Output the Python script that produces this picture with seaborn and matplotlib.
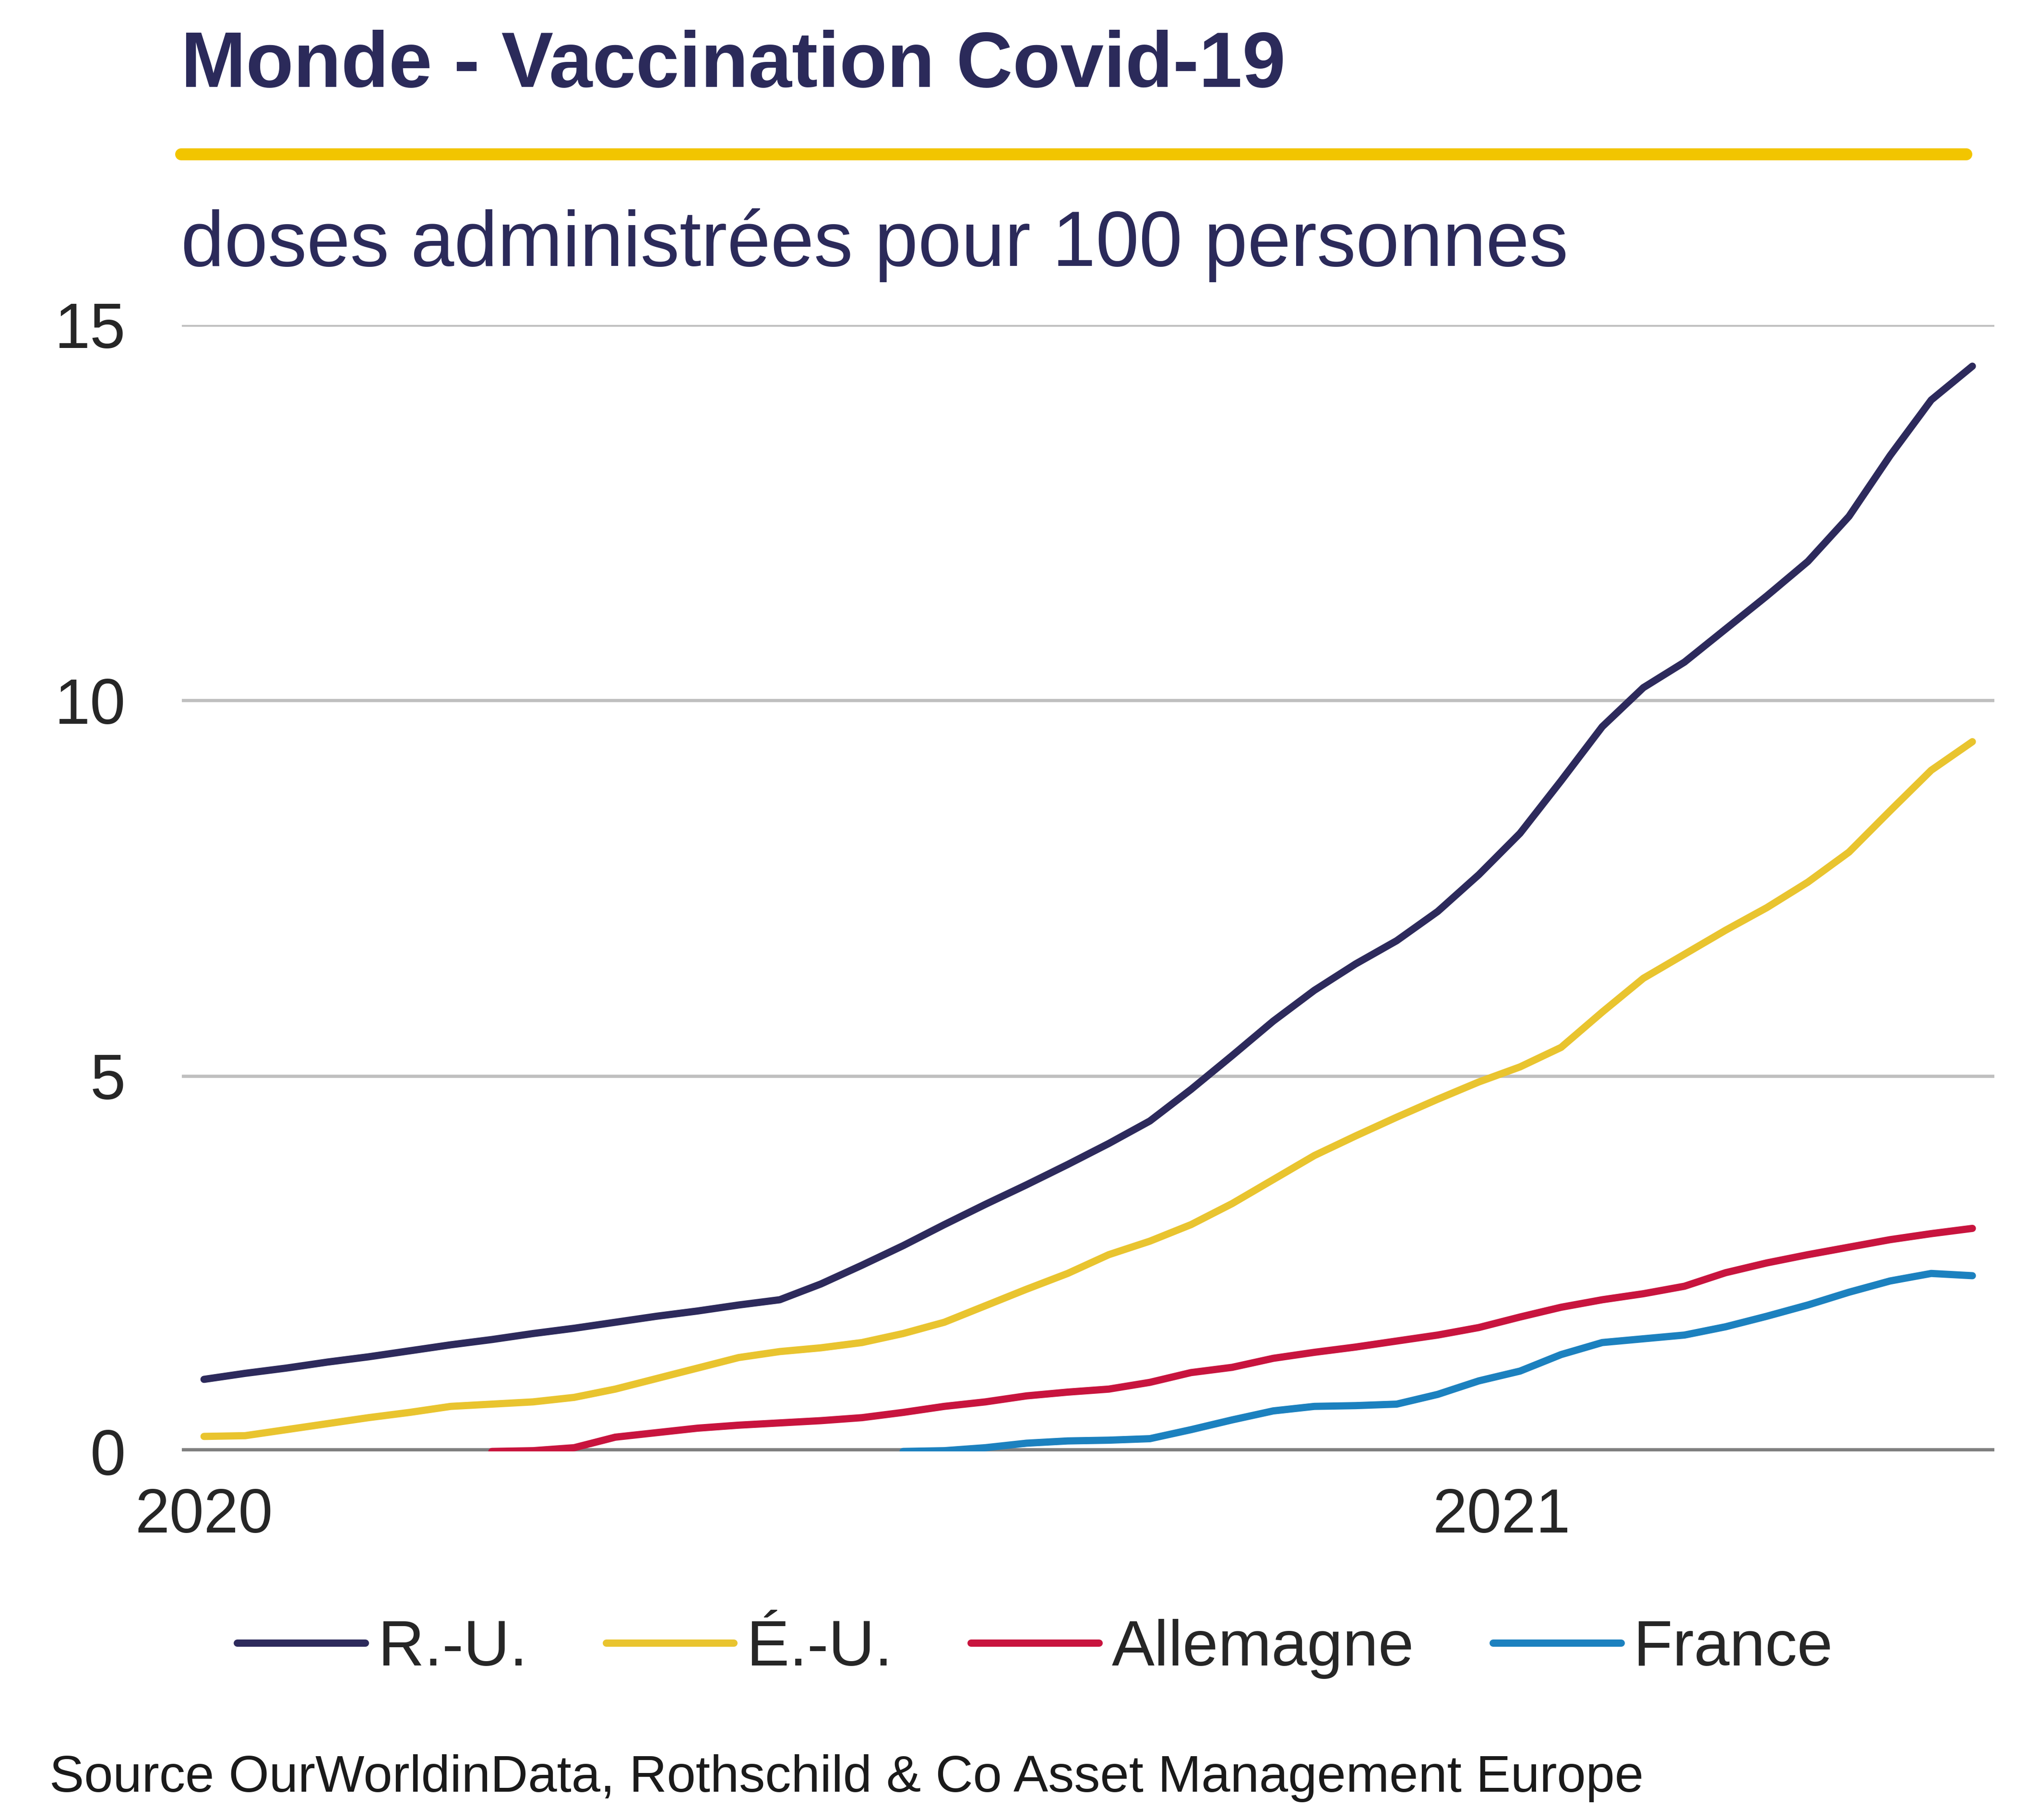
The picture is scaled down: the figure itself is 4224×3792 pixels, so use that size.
import numpy as np
import pandas as pd
import matplotlib.pyplot as plt
from matplotlib.lines import Line2D
import seaborn as sns


# Data (doses per 100 people, one reading per day)
days = list(range(44))

ru = [0.96, 1.04, 1.11, 1.19, 1.26, 1.34, 1.42, 1.49, 1.57, 1.64,
      1.72, 1.80, 1.87, 1.95, 2.02, 2.23, 2.48, 2.74, 3.02, 3.29,
      3.55, 3.82, 4.10, 4.40, 4.82, 5.27, 5.73, 6.14, 6.49, 6.80,
      7.19, 7.68, 8.23, 8.93, 9.65, 10.17, 10.51, 10.95, 11.39, 11.85,
      12.45, 13.26, 14.00, 14.45]

eu = [0.20, 0.21, 0.29, 0.37, 0.45, 0.52, 0.60, 0.63, 0.66, 0.72,
      0.83, 0.97, 1.11, 1.25, 1.33, 1.38, 1.45, 1.57, 1.72, 1.94,
      2.16, 2.37, 2.62, 2.80, 3.02, 3.30, 3.62, 3.94, 4.20, 4.45,
      4.69, 4.92, 5.12, 5.38, 5.85, 6.30, 6.62, 6.94, 7.24, 7.58,
      7.98, 8.53, 9.07, 9.45]

allemagne = [None] * 7 + [
      0.00, 0.01, 0.05, 0.19, 0.25, 0.31, 0.35, 0.38, 0.41, 0.45,
      0.52, 0.60, 0.66, 0.74, 0.79, 0.83, 0.92, 1.05, 1.12, 1.24,
      1.32, 1.39, 1.47, 1.55, 1.65, 1.79, 1.92, 2.02, 2.10, 2.20,
      2.38, 2.51, 2.62, 2.72, 2.82, 2.90, 2.97]

france = [None] * 17 + [
      0.00, 0.01, 0.05, 0.11, 0.14, 0.15, 0.17, 0.29, 0.42, 0.54,
      0.60, 0.61, 0.63, 0.76, 0.94, 1.07, 1.29, 1.45, 1.50, 1.55,
      1.66, 1.80, 1.95, 2.12, 2.27, 2.37, 2.34]

series = {'R.-U.': ru, 'É.-U.': eu, 'Allemagne': allemagne, 'France': france}
colors = ['#2D2A5C', '#E9C42F', '#C8143E', '#1C81BF']

frames = []
for name, vals in series.items():
    frames.append(pd.DataFrame({'day': days, 'value': vals, 'pays': name}))
df = pd.concat(frames).dropna()

year_ticks = [0, 31.55]
year_labels = ['2020', '2021']


sns.set_style('white')
plt.rcParams['font.family'] = ['Liberation Sans', 'DejaVu Sans']

navy = '#2B2A5A'

fig = plt.figure(figsize=(14.08, 12.64), dpi=300)
ax = fig.add_axes([0.0897, 0.2025, 0.8943, 0.619])

sns.lineplot(data=df, x='day', y='value', hue='pays', palette=colors,
             linewidth=3.6, ax=ax)

ax.set_xlim(-0.54, 43.54)
ax.set_ylim(0, 15)
ax.set_yticks([0, 5, 10, 15])
ax.set_xticks(year_ticks)
ax.set_xticklabels(year_labels)
ax.set_xlabel('')
ax.set_ylabel('')
ax.grid(axis='y', color='#BFBFBF', linewidth=1.6)
ax.set_axisbelow(True)
for s in ax.spines.values():
    s.set_visible(False)
ax.axhline(0, color='#7F7F7F', linewidth=3.5, zorder=1)
ax.tick_params(axis='y', length=0, pad=28, labelsize=32, labelcolor='#262626')
ax.tick_params(axis='x', length=0, pad=18, labelsize=31, labelcolor='#262626')

handles, labels = ax.get_legend_handles_labels()
ax.legend_.remove()
fig.legend(handles, labels, loc='center left', bbox_to_anchor=(0.117, 0.094),
           ncol=4, frameon=False, fontsize=32, handlelength=2.0,
           handletextpad=0.2, columnspacing=1.23, borderpad=0,
           borderaxespad=0)

fig.text(0.0893, 0.9523, 'Monde - Vaccination Covid-19', fontsize=39,
         fontweight='bold', color=navy, va='baseline', ha='left')
fig.add_artist(Line2D([0.0893, 0.970], [0.9153, 0.9153], color='#F2C500',
                      linewidth=6, transform=fig.transFigure))
fig.text(0.0893, 0.854, 'doses administrées pour 100 personnes', fontsize=39,
         color=navy, va='baseline', ha='left')
fig.text(0.0244, 0.023, 'Source OurWorldinData, Rothschild & Co Asset Management Europe',
         fontsize=26, color='#1A1A1A', va='center', ha='left')

fig.savefig('out.png', dpi=300, facecolor='white')
